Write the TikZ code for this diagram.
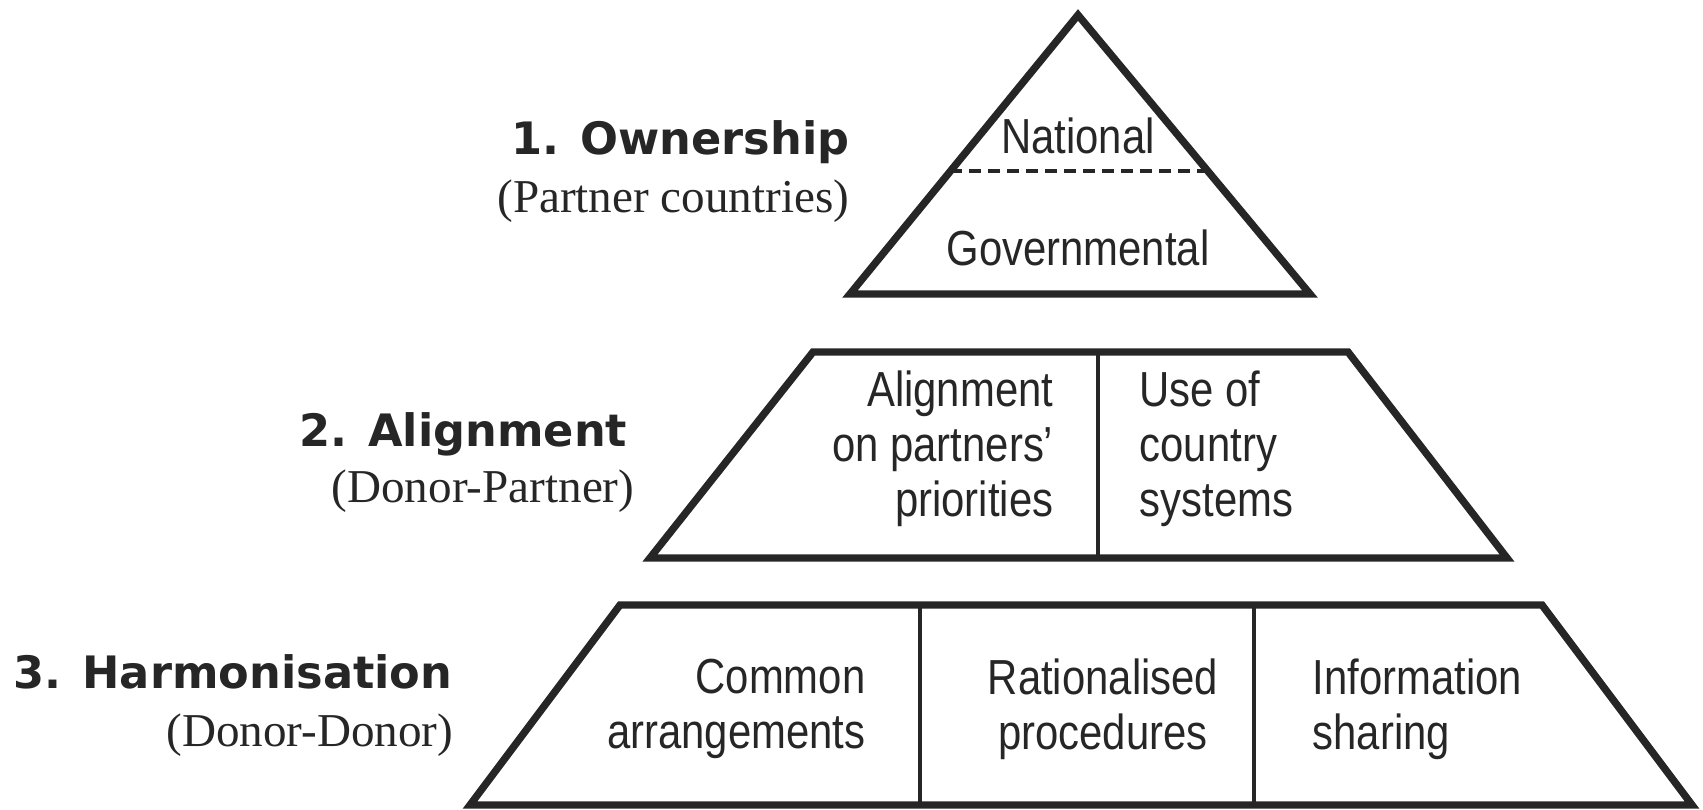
\documentclass[tikz,border=0pt]{standalone}
\usepackage{fontspec}
\setmainfont{Liberation Serif}
\newfontfamily\cellfont{Liberation Sans}[FakeStretch=0.85]
\newfontfamily\pillarfont{DejaVu Sans}
\tikzset{
  outline/.style={draw=black!85, line width=2.1pt, line join=miter},
  divider/.style={draw=black!85, line width=0.9pt},
  split/.style={draw=black!85, line width=0.9pt, dash pattern=on 0.12cm off 0.07cm},
  cell/.style={text=black!85, font=\cellfont\fontsize{14pt}{15.7pt}\selectfont, inner sep=0pt},
  pillarhead/.style={text=black!85, font=\pillarfont\bfseries\fontsize{12.7pt}{15pt}\selectfont, inner sep=0pt, anchor=base east},
  partners/.style={text=black!85, font=\fontsize{13.4pt}{16pt}\selectfont, inner sep=0pt, anchor=base east}
}

\begin{document}
\begin{tikzpicture}[x=0.01cm, y=-0.01cm]
\useasboundingbox (0,0) rectangle (1703,810);

% level 1: triangle
\coordinate (T1) at (1078,15);
\coordinate (T2) at (1310,294);
\coordinate (T3) at (850,294);
\coordinate (S1) at (950,171);
\coordinate (S2) at (1208,171);
\draw [outline] (T1) -- (T2) -- (T3) -- cycle;
\draw [split] (S1) -- (S2);
\node (NAT) at (1078,154) [cell, anchor=base] {National};
\node (GOV) at (1078,266) [cell, anchor=base] {Governmental};

% level 2: middle trapezoid
\coordinate (M1) at (813,352);
\coordinate (M2) at (1348,352);
\coordinate (M3) at (1507,558);
\coordinate (M4) at (650,558);
\coordinate (MT) at (1098,352);
\coordinate (MB) at (1098,558);
\draw [outline] (M1) -- (M2) -- (M3) -- (M4) -- cycle;
\draw [divider] (MT) -- (MB);
\node (ALI) at (1054,449) [cell, anchor=east, align=right] {Alignment\\on partners’\\priorities};
\node (USE) at (1139,449) [cell, anchor=west, align=left] {Use of\\country\\systems};

% level 3: bottom trapezoid
\coordinate (B1) at (620,605);
\coordinate (B2) at (1542,605);
\coordinate (B3) at (1692,805);
\coordinate (B4) at (470,805);
\coordinate (BT1) at (920,605);
\coordinate (BB1) at (920,805);
\coordinate (BT2) at (1254,605);
\coordinate (BB2) at (1254,805);
\draw [outline] (B1) -- (B2) -- (B3) -- (B4) -- cycle;
\draw [divider] (BT1) -- (BB1);
\draw [divider] (BT2) -- (BB2);
\node (COM) at (866,709) [cell, anchor=east, align=right] {Common\\arrangements};
\node (RAT) at (1103,709) [cell, align=center] {Rationalised\\procedures};
\node (INF) at (1312,709) [cell, anchor=west, align=left] {Information\\sharing};

% pillar names
\node (P1) at (850,155) [pillarhead] {1. Ownership};
\node (Q1) at (850,213) [partners] {(Partner countries)};
\node (P2) at (628,447) [pillarhead] {2. Alignment};
\node (Q2) at (635,503) [partners] {(Donor-Partner)};
\node (P3) at (453,689) [pillarhead] {3. Harmonisation};
\node (Q3) at (454,747) [partners] {(Donor-Donor)};
\end{tikzpicture}
\end{document}
